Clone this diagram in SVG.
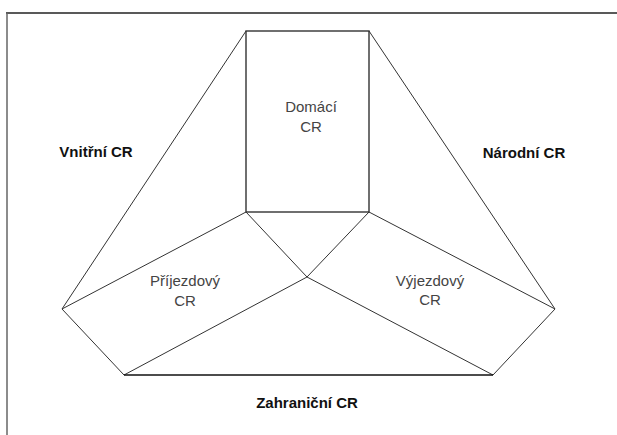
<svg xmlns="http://www.w3.org/2000/svg" width="617" height="435" viewBox="0 0 617 435">
<style>
.ln{stroke:#333;stroke-width:1;fill:none}
.bold{font-family:"Liberation Sans",Arial,sans-serif;font-size:15px;font-weight:bold;fill:#111;text-anchor:middle}
.reg{font-family:"Liberation Sans",Arial,sans-serif;font-size:15px;fill:#444;text-anchor:middle}
</style>
<rect width="617" height="435" fill="#fff"/>
<g id="frame">
<line x1="6" y1="13" x2="617" y2="13" stroke="#222" stroke-width="1.5"/>
<line x1="7" y1="13" x2="7" y2="435" stroke="#666" stroke-width="1.5"/>
</g>
<g id="connectors">
<line class="ln" x1="246" y1="31" x2="62" y2="309"/>
<line class="ln" x1="369" y1="31" x2="555" y2="309"/>
<line class="ln" x1="62" y1="309" x2="246" y2="212"/>
<line class="ln" x1="369" y1="212" x2="555" y2="309"/>
<line class="ln" x1="62" y1="309" x2="124" y2="375"/>
<line class="ln" x1="555" y1="309" x2="493" y2="375"/>
<line class="ln" x1="246" y1="212" x2="307" y2="277"/>
<line class="ln" x1="369" y1="212" x2="307" y2="277"/>
<line class="ln" x1="307" y1="277" x2="124" y2="375"/>
<line class="ln" x1="307" y1="277" x2="493" y2="375"/>
<line x1="124" y1="375" x2="493" y2="375" stroke="#111" stroke-width="1.6"/>
</g>
<g id="domaci">
<rect x="246" y="31" width="123" height="181" fill="none" stroke="#333" stroke-width="1.4"/>
<text class="reg" x="311" y="112">Domácí</text>
<text class="reg" x="311" y="132">CR</text>
</g>
<g id="vnitrni"><text class="bold" x="96" y="157">Vnitřní CR</text></g>
<g id="narodni"><text class="bold" x="524" y="158">Národní CR</text></g>
<g id="zahranicni"><text class="bold" x="307" y="408">Zahraniční CR</text></g>
<g id="prijezdovy">
<text class="reg" x="185" y="286">Příjezdový</text>
<text class="reg" x="185" y="306">CR</text>
</g>
<g id="vyjezdovy">
<text class="reg" x="430" y="286">Výjezdový</text>
<text class="reg" x="430" y="305">CR</text>
</g>
</svg>
